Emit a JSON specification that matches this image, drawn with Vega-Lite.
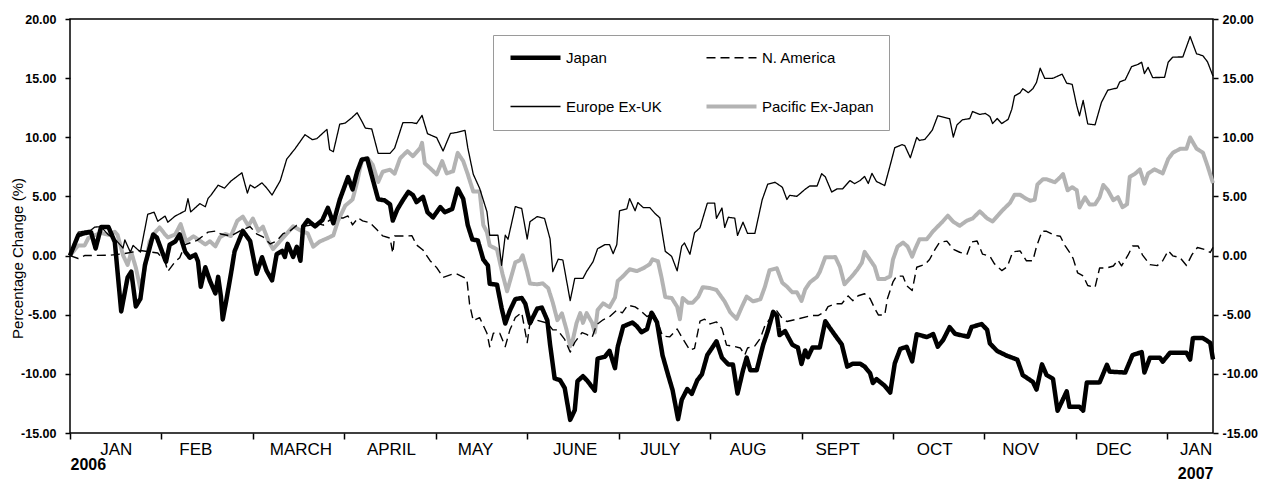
{
"$schema": "https://vega.github.io/schema/vega-lite/v6.json",
"width": 1143, "height": 414,
"autosize": {"type": "none"},
"padding": {"left": 70, "top": 19, "right": 48, "bottom": 49},
"background": "white",
"config": {
  "view": {"stroke": "#000", "strokeWidth": 1.5},
  "font": "Liberation Sans",
  "axis": {"grid": false, "domain": false, "tickColor": "#000", "labelColor": "#000", "titleColor": "#000", "labelFont": "Liberation Sans", "titleFont": "Liberation Sans"}
},
"datasets": {
"years": [{"month": 0.2, "ypos": -17.7, "label": "2006"}, {"month": 12.31, "ypos": -18.5, "label": "2007"}],
"lines": [
{"region":"Pacific Ex-Japan","month":0,"change":0},{"region":"Pacific Ex-Japan","month":0.09,"change":0.86},{"region":"Pacific Ex-Japan","month":0.16,"change":0.86},{"region":"Pacific Ex-Japan","month":0.2,"change":1.47},{"region":"Pacific Ex-Japan","month":0.27,"change":1.72},{"region":"Pacific Ex-Japan","month":0.34,"change":1.91},{"region":"Pacific Ex-Japan","month":0.42,"change":1.75},{"region":"Pacific Ex-Japan","month":0.49,"change":2.01},{"region":"Pacific Ex-Japan","month":0.52,"change":1.75},{"region":"Pacific Ex-Japan","month":0.58,"change":0.03},{"region":"Pacific Ex-Japan","month":0.63,"change":-0.79},{"region":"Pacific Ex-Japan","month":0.67,"change":0.29},{"region":"Pacific Ex-Japan","month":0.72,"change":-1.02},{"region":"Pacific Ex-Japan","month":0.77,"change":-2.83},{"region":"Pacific Ex-Japan","month":0.82,"change":-1.02},{"region":"Pacific Ex-Japan","month":0.87,"change":1.17},{"region":"Pacific Ex-Japan","month":0.93,"change":1.95},{"region":"Pacific Ex-Japan","month":0.98,"change":2.38},{"region":"Pacific Ex-Japan","month":1.04,"change":1.78},{"region":"Pacific Ex-Japan","month":1.07,"change":1.53},{"region":"Pacific Ex-Japan","month":1.15,"change":1.78},{"region":"Pacific Ex-Japan","month":1.21,"change":2.66},{"region":"Pacific Ex-Japan","month":1.27,"change":1.19},{"region":"Pacific Ex-Japan","month":1.35,"change":1.63},{"region":"Pacific Ex-Japan","month":1.4,"change":1.37},{"region":"Pacific Ex-Japan","month":1.48,"change":0.94},{"region":"Pacific Ex-Japan","month":1.53,"change":1.21},{"region":"Pacific Ex-Japan","month":1.59,"change":0.78},{"region":"Pacific Ex-Japan","month":1.64,"change":1.55},{"region":"Pacific Ex-Japan","month":1.7,"change":1.82},{"region":"Pacific Ex-Japan","month":1.76,"change":1.65},{"region":"Pacific Ex-Japan","month":1.83,"change":2.95},{"region":"Pacific Ex-Japan","month":1.89,"change":3.29},{"region":"Pacific Ex-Japan","month":1.95,"change":2.52},{"region":"Pacific Ex-Japan","month":2.0,"change":3.13},{"region":"Pacific Ex-Japan","month":2.06,"change":2.09},{"region":"Pacific Ex-Japan","month":2.11,"change":2.44},{"region":"Pacific Ex-Japan","month":2.17,"change":1.24},{"region":"Pacific Ex-Japan","month":2.22,"change":0.55},{"region":"Pacific Ex-Japan","month":2.3,"change":1.25},{"region":"Pacific Ex-Japan","month":2.37,"change":1.85},{"region":"Pacific Ex-Japan","month":2.44,"change":2.47},{"region":"Pacific Ex-Japan","month":2.52,"change":2.12},{"region":"Pacific Ex-Japan","month":2.6,"change":1.87},{"region":"Pacific Ex-Japan","month":2.66,"change":0.75},{"region":"Pacific Ex-Japan","month":2.73,"change":1.18},{"region":"Pacific Ex-Japan","month":2.81,"change":1.45},{"region":"Pacific Ex-Japan","month":2.88,"change":1.71},{"region":"Pacific Ex-Japan","month":2.93,"change":2.92},{"region":"Pacific Ex-Japan","month":3.01,"change":4.22},{"region":"Pacific Ex-Japan","month":3.09,"change":4.74},{"region":"Pacific Ex-Japan","month":3.14,"change":6.21},{"region":"Pacific Ex-Japan","month":3.17,"change":7.33},{"region":"Pacific Ex-Japan","month":3.2,"change":8.19},{"region":"Pacific Ex-Japan","month":3.26,"change":8.2},{"region":"Pacific Ex-Japan","month":3.31,"change":7.68},{"region":"Pacific Ex-Japan","month":3.37,"change":6.22},{"region":"Pacific Ex-Japan","month":3.42,"change":7.09},{"region":"Pacific Ex-Japan","month":3.5,"change":7.26},{"region":"Pacific Ex-Japan","month":3.55,"change":6.92},{"region":"Pacific Ex-Japan","month":3.61,"change":8.22},{"region":"Pacific Ex-Japan","month":3.69,"change":8.83},{"region":"Pacific Ex-Japan","month":3.75,"change":8.4},{"region":"Pacific Ex-Japan","month":3.83,"change":9.09},{"region":"Pacific Ex-Japan","month":3.85,"change":9.53},{"region":"Pacific Ex-Japan","month":3.88,"change":7.8},{"region":"Pacific Ex-Japan","month":3.94,"change":7.37},{"region":"Pacific Ex-Japan","month":4.01,"change":6.86},{"region":"Pacific Ex-Japan","month":4.07,"change":7.98},{"region":"Pacific Ex-Japan","month":4.12,"change":6.95},{"region":"Pacific Ex-Japan","month":4.19,"change":7.13},{"region":"Pacific Ex-Japan","month":4.24,"change":8.68},{"region":"Pacific Ex-Japan","month":4.3,"change":7.99},{"region":"Pacific Ex-Japan","month":4.35,"change":6.88},{"region":"Pacific Ex-Japan","month":4.41,"change":5.41},{"region":"Pacific Ex-Japan","month":4.48,"change":5.42},{"region":"Pacific Ex-Japan","month":4.52,"change":2.58},{"region":"Pacific Ex-Japan","month":4.56,"change":1.97},{"region":"Pacific Ex-Japan","month":4.59,"change":0.85},{"region":"Pacific Ex-Japan","month":4.67,"change":0.52},{"region":"Pacific Ex-Japan","month":4.73,"change":-1.56},{"region":"Pacific Ex-Japan","month":4.78,"change":-3.02},{"region":"Pacific Ex-Japan","month":4.81,"change":-2.2},{"region":"Pacific Ex-Japan","month":4.87,"change":-0.57},{"region":"Pacific Ex-Japan","month":4.92,"change":-0.4},{"region":"Pacific Ex-Japan","month":4.95,"change":0.02},{"region":"Pacific Ex-Japan","month":5.0,"change":-1.38},{"region":"Pacific Ex-Japan","month":5.03,"change":-2.36},{"region":"Pacific Ex-Japan","month":5.11,"change":-2.43},{"region":"Pacific Ex-Japan","month":5.17,"change":-2.35},{"region":"Pacific Ex-Japan","month":5.23,"change":-2.76},{"region":"Pacific Ex-Japan","month":5.28,"change":-3.98},{"region":"Pacific Ex-Japan","month":5.33,"change":-5.46},{"region":"Pacific Ex-Japan","month":5.38,"change":-4.89},{"region":"Pacific Ex-Japan","month":5.43,"change":-6.27},{"region":"Pacific Ex-Japan","month":5.47,"change":-7.66},{"region":"Pacific Ex-Japan","month":5.5,"change":-7.09},{"region":"Pacific Ex-Japan","month":5.54,"change":-5.7},{"region":"Pacific Ex-Japan","month":5.58,"change":-4.87},{"region":"Pacific Ex-Japan","month":5.61,"change":-5.69},{"region":"Pacific Ex-Japan","month":5.65,"change":-4.87},{"region":"Pacific Ex-Japan","month":5.71,"change":-5.69},{"region":"Pacific Ex-Japan","month":5.74,"change":-6.5},{"region":"Pacific Ex-Japan","month":5.77,"change":-4.61},{"region":"Pacific Ex-Japan","month":5.83,"change":-4.04},{"region":"Pacific Ex-Japan","month":5.9,"change":-4.36},{"region":"Pacific Ex-Japan","month":5.96,"change":-3.54},{"region":"Pacific Ex-Japan","month":5.99,"change":-2.15},{"region":"Pacific Ex-Japan","month":6.05,"change":-1.73},{"region":"Pacific Ex-Japan","month":6.12,"change":-1.16},{"region":"Pacific Ex-Japan","month":6.2,"change":-1.31},{"region":"Pacific Ex-Japan","month":6.27,"change":-1.07},{"region":"Pacific Ex-Japan","month":6.34,"change":-0.73},{"region":"Pacific Ex-Japan","month":6.37,"change":-0.32},{"region":"Pacific Ex-Japan","month":6.43,"change":-0.48},{"region":"Pacific Ex-Japan","month":6.47,"change":-1.88},{"region":"Pacific Ex-Japan","month":6.51,"change":-3.51},{"region":"Pacific Ex-Japan","month":6.58,"change":-3.59},{"region":"Pacific Ex-Japan","month":6.64,"change":-4.33},{"region":"Pacific Ex-Japan","month":6.67,"change":-5.39},{"region":"Pacific Ex-Japan","month":6.7,"change":-3.58},{"region":"Pacific Ex-Japan","month":6.76,"change":-3.99},{"region":"Pacific Ex-Japan","month":6.81,"change":-3.98},{"region":"Pacific Ex-Japan","month":6.87,"change":-3.49},{"region":"Pacific Ex-Japan","month":6.92,"change":-2.67},{"region":"Pacific Ex-Japan","month":7.0,"change":-2.75},{"region":"Pacific Ex-Japan","month":7.07,"change":-2.91},{"region":"Pacific Ex-Japan","month":7.16,"change":-3.89},{"region":"Pacific Ex-Japan","month":7.22,"change":-4.79},{"region":"Pacific Ex-Japan","month":7.29,"change":-5.35},{"region":"Pacific Ex-Japan","month":7.35,"change":-4.29},{"region":"Pacific Ex-Japan","month":7.4,"change":-3.47},{"region":"Pacific Ex-Japan","month":7.47,"change":-3.87},{"region":"Pacific Ex-Japan","month":7.55,"change":-3.7},{"region":"Pacific Ex-Japan","month":7.6,"change":-2.63},{"region":"Pacific Ex-Japan","month":7.65,"change":-1.24},{"region":"Pacific Ex-Japan","month":7.73,"change":-1.07},{"region":"Pacific Ex-Japan","month":7.79,"change":-2.3},{"region":"Pacific Ex-Japan","month":7.84,"change":-2.62},{"region":"Pacific Ex-Japan","month":7.9,"change":-3.11},{"region":"Pacific Ex-Japan","month":7.95,"change":-3.11},{"region":"Pacific Ex-Japan","month":8.0,"change":-3.84},{"region":"Pacific Ex-Japan","month":8.04,"change":-2.86},{"region":"Pacific Ex-Japan","month":8.09,"change":-2.28},{"region":"Pacific Ex-Japan","month":8.17,"change":-1.79},{"region":"Pacific Ex-Japan","month":8.2,"change":-1.38},{"region":"Pacific Ex-Japan","month":8.26,"change":-0.14},{"region":"Pacific Ex-Japan","month":8.37,"change":-0.13},{"region":"Pacific Ex-Japan","month":8.42,"change":-0.95},{"region":"Pacific Ex-Japan","month":8.47,"change":-2.43},{"region":"Pacific Ex-Japan","month":8.55,"change":-1.76},{"region":"Pacific Ex-Japan","month":8.61,"change":-1.19},{"region":"Pacific Ex-Japan","month":8.66,"change":-0.61},{"region":"Pacific Ex-Japan","month":8.69,"change":0.31},{"region":"Pacific Ex-Japan","month":8.75,"change":-0.36},{"region":"Pacific Ex-Japan","month":8.8,"change":-0.93},{"region":"Pacific Ex-Japan","month":8.84,"change":-1.99},{"region":"Pacific Ex-Japan","month":8.91,"change":-1.99},{"region":"Pacific Ex-Japan","month":8.97,"change":-1.75},{"region":"Pacific Ex-Japan","month":9.0,"change":-0.34},{"region":"Pacific Ex-Japan","month":9.05,"change":0.76},{"region":"Pacific Ex-Japan","month":9.11,"change":1.1},{"region":"Pacific Ex-Japan","month":9.16,"change":0.77},{"region":"Pacific Ex-Japan","month":9.21,"change":-0.09},{"region":"Pacific Ex-Japan","month":9.24,"change":0.51},{"region":"Pacific Ex-Japan","month":9.29,"change":1.37},{"region":"Pacific Ex-Japan","month":9.37,"change":1.38},{"region":"Pacific Ex-Japan","month":9.44,"change":2.07},{"region":"Pacific Ex-Japan","month":9.54,"change":2.85},{"region":"Pacific Ex-Japan","month":9.6,"change":3.37},{"region":"Pacific Ex-Japan","month":9.66,"change":2.86},{"region":"Pacific Ex-Japan","month":9.73,"change":2.52},{"region":"Pacific Ex-Japan","month":9.81,"change":2.96},{"region":"Pacific Ex-Japan","month":9.87,"change":3.13},{"region":"Pacific Ex-Japan","month":9.95,"change":3.74},{"region":"Pacific Ex-Japan","month":10.03,"change":3.14},{"region":"Pacific Ex-Japan","month":10.09,"change":2.89},{"region":"Pacific Ex-Japan","month":10.15,"change":3.41},{"region":"Pacific Ex-Japan","month":10.2,"change":3.84},{"region":"Pacific Ex-Japan","month":10.28,"change":4.45},{"region":"Pacific Ex-Japan","month":10.33,"change":5.14},{"region":"Pacific Ex-Japan","month":10.39,"change":5.14},{"region":"Pacific Ex-Japan","month":10.44,"change":4.89},{"region":"Pacific Ex-Japan","month":10.5,"change":4.63},{"region":"Pacific Ex-Japan","month":10.55,"change":4.72},{"region":"Pacific Ex-Japan","month":10.58,"change":6.02},{"region":"Pacific Ex-Japan","month":10.64,"change":6.45},{"region":"Pacific Ex-Japan","month":10.68,"change":6.45},{"region":"Pacific Ex-Japan","month":10.77,"change":6.2},{"region":"Pacific Ex-Japan","month":10.83,"change":6.63},{"region":"Pacific Ex-Japan","month":10.86,"change":6.89},{"region":"Pacific Ex-Japan","month":10.91,"change":5.52},{"region":"Pacific Ex-Japan","month":10.96,"change":5.78},{"region":"Pacific Ex-Japan","month":11.01,"change":5.52},{"region":"Pacific Ex-Japan","month":11.04,"change":4.06},{"region":"Pacific Ex-Japan","month":11.1,"change":4.92},{"region":"Pacific Ex-Japan","month":11.15,"change":4.32},{"region":"Pacific Ex-Japan","month":11.21,"change":4.33},{"region":"Pacific Ex-Japan","month":11.26,"change":4.93},{"region":"Pacific Ex-Japan","month":11.3,"change":5.97},{"region":"Pacific Ex-Japan","month":11.35,"change":5.54},{"region":"Pacific Ex-Japan","month":11.41,"change":4.68},{"region":"Pacific Ex-Japan","month":11.46,"change":4.94},{"region":"Pacific Ex-Japan","month":11.51,"change":4.09},{"region":"Pacific Ex-Japan","month":11.56,"change":4.34},{"region":"Pacific Ex-Japan","month":11.59,"change":6.67},{"region":"Pacific Ex-Japan","month":11.65,"change":6.93},{"region":"Pacific Ex-Japan","month":11.7,"change":7.28},{"region":"Pacific Ex-Japan","month":11.75,"change":6.08},{"region":"Pacific Ex-Japan","month":11.79,"change":6.94},{"region":"Pacific Ex-Japan","month":11.86,"change":7.29},{"region":"Pacific Ex-Japan","month":11.95,"change":6.95},{"region":"Pacific Ex-Japan","month":12.01,"change":8.16},{"region":"Pacific Ex-Japan","month":12.06,"change":8.68},{"region":"Pacific Ex-Japan","month":12.14,"change":9.03},{"region":"Pacific Ex-Japan","month":12.21,"change":9.03},{"region":"Pacific Ex-Japan","month":12.25,"change":9.98},{"region":"Pacific Ex-Japan","month":12.32,"change":9.04},{"region":"Pacific Ex-Japan","month":12.39,"change":8.7},{"region":"Pacific Ex-Japan","month":12.44,"change":7.59},{"region":"Pacific Ex-Japan","month":12.5,"change":6.12},
{"region":"N. America","month":0,"change":0},{"region":"N. America","month":0.09,"change":-0.25},{"region":"N. America","month":0.16,"change":0},{"region":"N. America","month":0.44,"change":0.03},{"region":"N. America","month":0.6,"change":0.17},{"region":"N. America","month":0.77,"change":0.43},{"region":"N. America","month":0.96,"change":0.22},{"region":"N. America","month":1.04,"change":-0.52},{"region":"N. America","month":1.07,"change":-1.34},{"region":"N. America","month":1.15,"change":-0.52},{"region":"N. America","month":1.2,"change":-0.18},{"region":"N. America","month":1.26,"change":0.93},{"region":"N. America","month":1.39,"change":1.28},{"region":"N. America","month":1.51,"change":1.98},{"region":"N. America","month":1.59,"change":2.07},{"region":"N. America","month":1.65,"change":1.82},{"region":"N. America","month":1.76,"change":1.65},{"region":"N. America","month":1.86,"change":2.09},{"region":"N. America","month":1.97,"change":2.44},{"region":"N. America","month":2.04,"change":1.84},{"region":"N. America","month":2.11,"change":1.59},{"region":"N. America","month":2.19,"change":0.98},{"region":"N. America","month":2.26,"change":1.24},{"region":"N. America","month":2.33,"change":1.85},{"region":"N. America","month":2.41,"change":2.11},{"region":"N. America","month":2.48,"change":2.55},{"region":"N. America","month":2.55,"change":2.47},{"region":"N. America","month":2.62,"change":2.56},{"region":"N. America","month":2.7,"change":2.73},{"region":"N. America","month":2.77,"change":2.57},{"region":"N. America","month":2.84,"change":3.0},{"region":"N. America","month":2.92,"change":3.18},{"region":"N. America","month":2.99,"change":3.18},{"region":"N. America","month":3.04,"change":3.35},{"region":"N. America","month":3.09,"change":2.59},{"region":"N. America","month":3.15,"change":3.19},{"region":"N. America","month":3.2,"change":2.93},{"region":"N. America","month":3.28,"change":2.77},{"region":"N. America","month":3.36,"change":2.16},{"region":"N. America","month":3.42,"change":1.66},{"region":"N. America","month":3.5,"change":1.48},{"region":"N. America","month":3.53,"change":0.2},{"region":"N. America","month":3.55,"change":1.66},{"region":"N. America","month":3.64,"change":1.66},{"region":"N. America","month":3.74,"change":1.67},{"region":"N. America","month":3.79,"change":0.9},{"region":"N. America","month":3.86,"change":0.47},{"region":"N. America","month":3.94,"change":-0.45},{"region":"N. America","month":4.01,"change":-1.02},{"region":"N. America","month":4.08,"change":-1.84},{"region":"N. America","month":4.18,"change":-1.58},{"region":"N. America","month":4.24,"change":-1.58},{"region":"N. America","month":4.34,"change":-1.98},{"region":"N. America","month":4.37,"change":-4.11},{"region":"N. America","month":4.41,"change":-5.51},{"region":"N. America","month":4.48,"change":-5.25},{"region":"N. America","month":4.56,"change":-6.57},{"region":"N. America","month":4.59,"change":-7.71},{"region":"N. America","month":4.63,"change":-6.56},{"region":"N. America","month":4.7,"change":-6.56},{"region":"N. America","month":4.76,"change":-7.7},{"region":"N. America","month":4.81,"change":-6.3},{"region":"N. America","month":4.87,"change":-5.24},{"region":"N. America","month":4.94,"change":-4.82},{"region":"N. America","month":5.0,"change":-7.36},{"region":"N. America","month":5.03,"change":-5.72},{"region":"N. America","month":5.11,"change":-5.47},{"region":"N. America","month":5.22,"change":-5.71},{"region":"N. America","month":5.28,"change":-6.28},{"region":"N. America","month":5.33,"change":-6.28},{"region":"N. America","month":5.41,"change":-7.09},{"region":"N. America","month":5.47,"change":-8.16},{"region":"N. America","month":5.52,"change":-7.34},{"region":"N. America","month":5.6,"change":-6.51},{"region":"N. America","month":5.65,"change":-6.67},{"region":"N. America","month":5.71,"change":-6.91},{"region":"N. America","month":5.76,"change":-5.84},{"region":"N. America","month":5.83,"change":-5.43},{"region":"N. America","month":5.9,"change":-5.18},{"region":"N. America","month":5.98,"change":-4.61},{"region":"N. America","month":6.04,"change":-4.84},{"region":"N. America","month":6.1,"change":-4.19},{"region":"N. America","month":6.18,"change":-4.34},{"region":"N. America","month":6.23,"change":-4.59},{"region":"N. America","month":6.31,"change":-5.16},{"region":"N. America","month":6.38,"change":-4.83},{"region":"N. America","month":6.43,"change":-5.65},{"region":"N. America","month":6.48,"change":-6.8},{"region":"N. America","month":6.56,"change":-6.87},{"region":"N. America","month":6.64,"change":-6.21},{"region":"N. America","month":6.7,"change":-7.02},{"region":"N. America","month":6.78,"change":-8.01},{"region":"N. America","month":6.83,"change":-7.84},{"region":"N. America","month":6.89,"change":-5.54},{"region":"N. America","month":6.94,"change":-5.38},{"region":"N. America","month":7.0,"change":-5.78},{"region":"N. America","month":7.07,"change":-5.61},{"region":"N. America","month":7.13,"change":-6.18},{"region":"N. America","month":7.18,"change":-7.57},{"region":"N. America","month":7.25,"change":-7.66},{"region":"N. America","month":7.33,"change":-7.81},{"region":"N. America","month":7.38,"change":-8.39},{"region":"N. America","month":7.41,"change":-7.81},{"region":"N. America","month":7.49,"change":-7.64},{"region":"N. America","month":7.55,"change":-6.98},{"region":"N. America","month":7.6,"change":-5.91},{"region":"N. America","month":7.68,"change":-5.09},{"region":"N. America","month":7.73,"change":-4.68},{"region":"N. America","month":7.79,"change":-5.33},{"region":"N. America","month":7.84,"change":-5.57},{"region":"N. America","month":7.98,"change":-5.32},{"region":"N. America","month":8.11,"change":-5.07},{"region":"N. America","month":8.18,"change":-5.07},{"region":"N. America","month":8.26,"change":-4.73},{"region":"N. America","month":8.29,"change":-4.32},{"region":"N. America","month":8.37,"change":-4.07},{"region":"N. America","month":8.44,"change":-4.07},{"region":"N. America","month":8.51,"change":-3.41},{"region":"N. America","month":8.56,"change":-3.81},{"region":"N. America","month":8.62,"change":-3.4},{"region":"N. America","month":8.69,"change":-3.23},{"region":"N. America","month":8.75,"change":-3.64},{"region":"N. America","month":8.8,"change":-4.46},{"region":"N. America","month":8.84,"change":-5.02},{"region":"N. America","month":8.91,"change":-5.02},{"region":"N. America","month":8.94,"change":-3.63},{"region":"N. America","month":9.0,"change":-2.23},{"region":"N. America","month":9.04,"change":-1.74},{"region":"N. America","month":9.11,"change":-1.74},{"region":"N. America","month":9.15,"change":-2.55},{"region":"N. America","month":9.21,"change":-2.96},{"region":"N. America","month":9.26,"change":-0.99},{"region":"N. America","month":9.35,"change":-0.74},{"region":"N. America","month":9.4,"change":-0.33},{"region":"N. America","month":9.46,"change":0.52},{"region":"N. America","month":9.51,"change":1.13},{"region":"N. America","month":9.59,"change":1.22},{"region":"N. America","month":9.66,"change":0.53},{"region":"N. America","month":9.73,"change":0.28},{"region":"N. America","month":9.81,"change":0.11},{"region":"N. America","month":9.86,"change":1.15},{"region":"N. America","month":9.92,"change":1.23},{"region":"N. America","month":9.98,"change":0.12},{"region":"N. America","month":10.06,"change":-0.05},{"region":"N. America","month":10.11,"change":-0.7},{"region":"N. America","month":10.19,"change":-1.27},{"region":"N. America","month":10.25,"change":-0.94},{"region":"N. America","month":10.31,"change":0.31},{"region":"N. America","month":10.39,"change":0.4},{"region":"N. America","month":10.46,"change":-0.44},{"region":"N. America","month":10.53,"change":-0.43},{"region":"N. America","month":10.57,"change":0.76},{"region":"N. America","month":10.63,"change":2.05},{"region":"N. America","month":10.68,"change":2.05},{"region":"N. America","month":10.77,"change":1.71},{"region":"N. America","month":10.83,"change":1.63},{"region":"N. America","month":10.88,"change":0.86},{"region":"N. America","month":10.94,"change":0.17},{"region":"N. America","month":10.97,"change":-0.24},{"region":"N. America","month":11.02,"change":-1.47},{"region":"N. America","month":11.08,"change":-1.71},{"region":"N. America","month":11.13,"change":-2.53},{"region":"N. America","month":11.21,"change":-2.69},{"region":"N. America","month":11.26,"change":-1.05},{"region":"N. America","month":11.34,"change":-1.04},{"region":"N. America","month":11.41,"change":-0.88},{"region":"N. America","month":11.46,"change":-0.38},{"region":"N. America","month":11.5,"change":-0.87},{"region":"N. America","month":11.57,"change":0.03},{"region":"N. America","month":11.62,"change":0.81},{"region":"N. America","month":11.68,"change":0.82},{"region":"N. America","month":11.73,"change":0.04},{"region":"N. America","month":11.81,"change":-0.77},{"region":"N. America","month":11.89,"change":-0.85},{"region":"N. America","month":11.95,"change":-0.44},{"region":"N. America","month":12.01,"change":0.41},{"region":"N. America","month":12.06,"change":-0.02},{"region":"N. America","month":12.14,"change":-0.18},{"region":"N. America","month":12.21,"change":-0.84},{"region":"N. America","month":12.27,"change":0.08},{"region":"N. America","month":12.33,"change":0.68},{"region":"N. America","month":12.41,"change":0.51},{"region":"N. America","month":12.47,"change":0.26},{"region":"N. America","month":12.5,"change":0.69},
{"region":"Europe Ex-UK","month":0,"change":0},{"region":"Europe Ex-UK","month":0.09,"change":1.98},{"region":"Europe Ex-UK","month":0.23,"change":2.16},{"region":"Europe Ex-UK","month":0.27,"change":2.41},{"region":"Europe Ex-UK","month":0.34,"change":2.43},{"region":"Europe Ex-UK","month":0.42,"change":1.75},{"region":"Europe Ex-UK","month":0.5,"change":1.32},{"region":"Europe Ex-UK","month":0.58,"change":0.64},{"region":"Europe Ex-UK","month":0.6,"change":1.32},{"region":"Europe Ex-UK","month":0.66,"change":0.29},{"region":"Europe Ex-UK","month":0.69,"change":0.86},{"region":"Europe Ex-UK","month":0.77,"change":0.3},{"region":"Europe Ex-UK","month":0.85,"change":3.49},{"region":"Europe Ex-UK","month":0.92,"change":3.67},{"region":"Europe Ex-UK","month":0.96,"change":2.9},{"region":"Europe Ex-UK","month":1.04,"change":3.34},{"region":"Europe Ex-UK","month":1.07,"change":2.82},{"region":"Europe Ex-UK","month":1.15,"change":3.34},{"region":"Europe Ex-UK","month":1.26,"change":3.78},{"region":"Europe Ex-UK","month":1.29,"change":4.81},{"region":"Europe Ex-UK","month":1.32,"change":3.69},{"region":"Europe Ex-UK","month":1.42,"change":4.39},{"region":"Europe Ex-UK","month":1.48,"change":4.13},{"region":"Europe Ex-UK","month":1.51,"change":4.83},{"region":"Europe Ex-UK","month":1.54,"change":5.09},{"region":"Europe Ex-UK","month":1.62,"change":5.95},{"region":"Europe Ex-UK","month":1.69,"change":5.7},{"region":"Europe Ex-UK","month":1.76,"change":6.3},{"region":"Europe Ex-UK","month":1.88,"change":7.0},{"region":"Europe Ex-UK","month":1.94,"change":5.28},{"region":"Europe Ex-UK","month":1.97,"change":5.97},{"region":"Europe Ex-UK","month":2.02,"change":5.72},{"region":"Europe Ex-UK","month":2.1,"change":6.15},{"region":"Europe Ex-UK","month":2.15,"change":5.72},{"region":"Europe Ex-UK","month":2.21,"change":5.12},{"region":"Europe Ex-UK","month":2.3,"change":6.34},{"region":"Europe Ex-UK","month":2.37,"change":8.15},{"region":"Europe Ex-UK","month":2.46,"change":9.02},{"region":"Europe Ex-UK","month":2.57,"change":10.22},{"region":"Europe Ex-UK","month":2.65,"change":9.8},{"region":"Europe Ex-UK","month":2.7,"change":9.89},{"region":"Europe Ex-UK","month":2.81,"change":10.67},{"region":"Europe Ex-UK","month":2.84,"change":8.95},{"region":"Europe Ex-UK","month":2.88,"change":8.78},{"region":"Europe Ex-UK","month":2.95,"change":11.11},{"region":"Europe Ex-UK","month":3.01,"change":11.2},{"region":"Europe Ex-UK","month":3.08,"change":11.64},{"region":"Europe Ex-UK","month":3.14,"change":12.07},{"region":"Europe Ex-UK","month":3.19,"change":11.38},{"region":"Europe Ex-UK","month":3.23,"change":10.78},{"region":"Europe Ex-UK","month":3.3,"change":10.7},{"region":"Europe Ex-UK","month":3.37,"change":8.64},{"region":"Europe Ex-UK","month":3.5,"change":8.64},{"region":"Europe Ex-UK","month":3.55,"change":9.08},{"region":"Europe Ex-UK","month":3.64,"change":11.23},{"region":"Europe Ex-UK","month":3.74,"change":11.24},{"region":"Europe Ex-UK","month":3.79,"change":11.16},{"region":"Europe Ex-UK","month":3.85,"change":11.85},{"region":"Europe Ex-UK","month":3.91,"change":10.3},{"region":"Europe Ex-UK","month":4.01,"change":9.97},{"region":"Europe Ex-UK","month":4.08,"change":8.84},{"region":"Europe Ex-UK","month":4.16,"change":10.32},{"region":"Europe Ex-UK","month":4.23,"change":10.41},{"region":"Europe Ex-UK","month":4.32,"change":10.59},{"region":"Europe Ex-UK","month":4.35,"change":9.12},{"region":"Europe Ex-UK","month":4.41,"change":6.88},{"region":"Europe Ex-UK","month":4.48,"change":5.68},{"region":"Europe Ex-UK","month":4.56,"change":3.7},{"region":"Europe Ex-UK","month":4.59,"change":1.72},{"region":"Europe Ex-UK","month":4.68,"change":1.72},{"region":"Europe Ex-UK","month":4.72,"change":-0.82},{"region":"Europe Ex-UK","month":4.76,"change":1.72},{"region":"Europe Ex-UK","month":4.79,"change":1.38},{"region":"Europe Ex-UK","month":4.87,"change":4.14},{"region":"Europe Ex-UK","month":4.94,"change":3.98},{"region":"Europe Ex-UK","month":5.0,"change":1.4},{"region":"Europe Ex-UK","month":5.03,"change":2.86},{"region":"Europe Ex-UK","month":5.11,"change":3.3},{"region":"Europe Ex-UK","month":5.19,"change":3.13},{"region":"Europe Ex-UK","month":5.25,"change":1.41},{"region":"Europe Ex-UK","month":5.28,"change":-1.36},{"region":"Europe Ex-UK","month":5.34,"change":-0.3},{"region":"Europe Ex-UK","month":5.39,"change":-0.38},{"region":"Europe Ex-UK","month":5.47,"change":-3.81},{"region":"Europe Ex-UK","month":5.52,"change":-1.93},{"region":"Europe Ex-UK","month":5.61,"change":-1.93},{"region":"Europe Ex-UK","month":5.65,"change":-1.34},{"region":"Europe Ex-UK","month":5.72,"change":-0.52},{"region":"Europe Ex-UK","month":5.77,"change":0.58},{"region":"Europe Ex-UK","month":5.85,"change":0.92},{"region":"Europe Ex-UK","month":5.9,"change":0.93},{"region":"Europe Ex-UK","month":5.94,"change":0.16},{"region":"Europe Ex-UK","month":5.98,"change":0.93},{"region":"Europe Ex-UK","month":6.01,"change":3.78},{"region":"Europe Ex-UK","month":6.09,"change":3.96},{"region":"Europe Ex-UK","month":6.12,"change":4.82},{"region":"Europe Ex-UK","month":6.18,"change":3.79},{"region":"Europe Ex-UK","month":6.21,"change":4.48},{"region":"Europe Ex-UK","month":6.27,"change":4.05},{"region":"Europe Ex-UK","month":6.34,"change":4.06},{"region":"Europe Ex-UK","month":6.4,"change":3.54},{"region":"Europe Ex-UK","month":6.45,"change":3.2},{"region":"Europe Ex-UK","month":6.51,"change":0.36},{"region":"Europe Ex-UK","month":6.58,"change":-0.07},{"region":"Europe Ex-UK","month":6.64,"change":-1.29},{"region":"Europe Ex-UK","month":6.69,"change":0.8},{"region":"Europe Ex-UK","month":6.72,"change":1.06},{"region":"Europe Ex-UK","month":6.78,"change":0.11},{"region":"Europe Ex-UK","month":6.83,"change":1.93},{"region":"Europe Ex-UK","month":6.89,"change":2.36},{"region":"Europe Ex-UK","month":6.97,"change":4.43},{"region":"Europe Ex-UK","month":7.05,"change":4.44},{"region":"Europe Ex-UK","month":7.07,"change":3.15},{"region":"Europe Ex-UK","month":7.13,"change":4.02},{"region":"Europe Ex-UK","month":7.16,"change":2.38},{"region":"Europe Ex-UK","month":7.2,"change":3.24},{"region":"Europe Ex-UK","month":7.27,"change":3.16},{"region":"Europe Ex-UK","month":7.3,"change":1.7},{"region":"Europe Ex-UK","month":7.36,"change":2.82},{"region":"Europe Ex-UK","month":7.41,"change":1.87},{"region":"Europe Ex-UK","month":7.49,"change":1.88},{"region":"Europe Ex-UK","month":7.57,"change":4.72},{"region":"Europe Ex-UK","month":7.63,"change":6.03},{"region":"Europe Ex-UK","month":7.71,"change":6.2},{"region":"Europe Ex-UK","month":7.79,"change":5.78},{"region":"Europe Ex-UK","month":7.84,"change":4.74},{"region":"Europe Ex-UK","month":7.87,"change":5.09},{"region":"Europe Ex-UK","month":7.95,"change":5.01},{"region":"Europe Ex-UK","month":8.04,"change":5.61},{"region":"Europe Ex-UK","month":8.09,"change":5.88},{"region":"Europe Ex-UK","month":8.17,"change":5.88},{"region":"Europe Ex-UK","month":8.22,"change":6.92},{"region":"Europe Ex-UK","month":8.26,"change":6.66},{"region":"Europe Ex-UK","month":8.33,"change":5.37},{"region":"Europe Ex-UK","month":8.39,"change":5.64},{"region":"Europe Ex-UK","month":8.45,"change":5.64},{"region":"Europe Ex-UK","month":8.53,"change":6.34},{"region":"Europe Ex-UK","month":8.58,"change":6.08},{"region":"Europe Ex-UK","month":8.64,"change":6.34},{"region":"Europe Ex-UK","month":8.69,"change":6.69},{"region":"Europe Ex-UK","month":8.73,"change":6.09},{"region":"Europe Ex-UK","month":8.77,"change":6.95},{"region":"Europe Ex-UK","month":8.82,"change":6.26},{"region":"Europe Ex-UK","month":8.91,"change":5.92},{"region":"Europe Ex-UK","month":8.97,"change":7.65},{"region":"Europe Ex-UK","month":9.02,"change":9.12},{"region":"Europe Ex-UK","month":9.1,"change":9.38},{"region":"Europe Ex-UK","month":9.13,"change":9.29},{"region":"Europe Ex-UK","month":9.19,"change":8.27},{"region":"Europe Ex-UK","month":9.26,"change":9.99},{"region":"Europe Ex-UK","month":9.29,"change":9.73},{"region":"Europe Ex-UK","month":9.35,"change":9.83},{"region":"Europe Ex-UK","month":9.43,"change":10.6},{"region":"Europe Ex-UK","month":9.49,"change":11.82},{"region":"Europe Ex-UK","month":9.62,"change":11.57},{"region":"Europe Ex-UK","month":9.66,"change":10.02},{"region":"Europe Ex-UK","month":9.7,"change":11.05},{"region":"Europe Ex-UK","month":9.76,"change":11.48},{"region":"Europe Ex-UK","month":9.84,"change":11.58},{"region":"Europe Ex-UK","month":9.87,"change":12.18},{"region":"Europe Ex-UK","month":9.95,"change":11.93},{"region":"Europe Ex-UK","month":10.01,"change":12.02},{"region":"Europe Ex-UK","month":10.06,"change":11.76},{"region":"Europe Ex-UK","month":10.09,"change":11.16},{"region":"Europe Ex-UK","month":10.14,"change":11.59},{"region":"Europe Ex-UK","month":10.19,"change":11.16},{"region":"Europe Ex-UK","month":10.26,"change":11.52},{"region":"Europe Ex-UK","month":10.3,"change":12.38},{"region":"Europe Ex-UK","month":10.33,"change":13.5},{"region":"Europe Ex-UK","month":10.39,"change":13.76},{"region":"Europe Ex-UK","month":10.42,"change":14.11},{"region":"Europe Ex-UK","month":10.48,"change":13.77},{"region":"Europe Ex-UK","month":10.53,"change":14.11},{"region":"Europe Ex-UK","month":10.57,"change":14.64},{"region":"Europe Ex-UK","month":10.61,"change":15.84},{"region":"Europe Ex-UK","month":10.66,"change":14.98},{"region":"Europe Ex-UK","month":10.75,"change":14.99},{"region":"Europe Ex-UK","month":10.85,"change":15.34},{"region":"Europe Ex-UK","month":10.9,"change":14.57},{"region":"Europe Ex-UK","month":10.96,"change":14.48},{"region":"Europe Ex-UK","month":11.01,"change":12.67},{"region":"Europe Ex-UK","month":11.04,"change":11.82},{"region":"Europe Ex-UK","month":11.08,"change":13.11},{"region":"Europe Ex-UK","month":11.13,"change":11.13},{"region":"Europe Ex-UK","month":11.21,"change":11.05},{"region":"Europe Ex-UK","month":11.28,"change":12.95},{"region":"Europe Ex-UK","month":11.35,"change":13.99},{"region":"Europe Ex-UK","month":11.45,"change":14.16},{"region":"Europe Ex-UK","month":11.48,"change":14.68},{"region":"Europe Ex-UK","month":11.54,"change":14.86},{"region":"Europe Ex-UK","month":11.61,"change":15.98},{"region":"Europe Ex-UK","month":11.68,"change":16.16},{"region":"Europe Ex-UK","month":11.72,"change":16.34},{"region":"Europe Ex-UK","month":11.75,"change":15.39},{"region":"Europe Ex-UK","month":11.79,"change":15.91},{"region":"Europe Ex-UK","month":11.84,"change":15.05},{"region":"Europe Ex-UK","month":11.97,"change":15.06},{"region":"Europe Ex-UK","month":12.01,"change":16.35},{"region":"Europe Ex-UK","month":12.06,"change":16.78},{"region":"Europe Ex-UK","month":12.17,"change":16.79},{"region":"Europe Ex-UK","month":12.25,"change":18.52},{"region":"Europe Ex-UK","month":12.32,"change":17.06},{"region":"Europe Ex-UK","month":12.39,"change":16.89},{"region":"Europe Ex-UK","month":12.44,"change":16.38},{"region":"Europe Ex-UK","month":12.5,"change":15.17},
{"region":"Japan","month":0,"change":0},{"region":"Japan","month":0.09,"change":1.72},{"region":"Japan","month":0.16,"change":1.9},{"region":"Japan","month":0.23,"change":1.98},{"region":"Japan","month":0.28,"change":0.6},{"region":"Japan","month":0.34,"change":2.41},{"region":"Japan","month":0.42,"change":2.42},{"region":"Japan","month":0.49,"change":1.15},{"region":"Japan","month":0.56,"change":-4.72},{"region":"Japan","month":0.63,"change":-1.85},{"region":"Japan","month":0.67,"change":-1.36},{"region":"Japan","month":0.72,"change":-4.3},{"region":"Japan","month":0.77,"change":-3.65},{"region":"Japan","month":0.82,"change":-0.78},{"region":"Japan","month":0.85,"change":0.05},{"region":"Japan","month":0.91,"change":1.78},{"region":"Japan","month":0.95,"change":1.52},{"region":"Japan","month":1.02,"change":0.06},{"region":"Japan","month":1.05,"change":-0.52},{"region":"Japan","month":1.09,"change":0.92},{"region":"Japan","month":1.15,"change":1.18},{"region":"Japan","month":1.2,"change":1.79},{"region":"Japan","month":1.26,"change":0.33},{"region":"Japan","month":1.31,"change":-0.18},{"region":"Japan","month":1.37,"change":0.08},{"region":"Japan","month":1.4,"change":-0.5},{"region":"Japan","month":1.43,"change":-2.63},{"region":"Japan","month":1.48,"change":-0.99},{"region":"Japan","month":1.53,"change":-2.13},{"region":"Japan","month":1.59,"change":-3.2},{"region":"Japan","month":1.62,"change":-1.8},{"region":"Japan","month":1.65,"change":-3.43},{"region":"Japan","month":1.67,"change":-5.4},{"region":"Japan","month":1.71,"change":-3.76},{"region":"Japan","month":1.76,"change":-1.55},{"region":"Japan","month":1.8,"change":0.36},{"region":"Japan","month":1.89,"change":2.09},{"region":"Japan","month":1.97,"change":1.23},{"region":"Japan","month":2.04,"change":-1.53},{"region":"Japan","month":2.1,"change":-0.14},{"region":"Japan","month":2.15,"change":-1.28},{"region":"Japan","month":2.21,"change":-2.1},{"region":"Japan","month":2.26,"change":0.12},{"region":"Japan","month":2.32,"change":0.39},{"region":"Japan","month":2.35,"change":-0.12},{"region":"Japan","month":2.38,"change":0.99},{"region":"Japan","month":2.44,"change":-0.11},{"region":"Japan","month":2.48,"change":0.74},{"region":"Japan","month":2.52,"change":-0.44},{"region":"Japan","month":2.55,"change":2.47},{"region":"Japan","month":2.6,"change":2.99},{"region":"Japan","month":2.68,"change":2.47},{"region":"Japan","month":2.76,"change":3.0},{"region":"Japan","month":2.82,"change":4.03},{"region":"Japan","month":2.88,"change":2.74},{"region":"Japan","month":2.95,"change":4.73},{"region":"Japan","month":3.04,"change":6.63},{"region":"Japan","month":3.09,"change":5.6},{"region":"Japan","month":3.14,"change":7.07},{"region":"Japan","month":3.19,"change":8.1},{"region":"Japan","month":3.25,"change":8.2},{"region":"Japan","month":3.31,"change":6.47},{"region":"Japan","month":3.37,"change":4.76},{"region":"Japan","month":3.44,"change":4.67},{"region":"Japan","month":3.5,"change":4.33},{"region":"Japan","month":3.53,"change":2.96},{"region":"Japan","month":3.58,"change":3.91},{"region":"Japan","month":3.64,"change":4.68},{"region":"Japan","month":3.7,"change":5.38},{"region":"Japan","month":3.75,"change":5.12},{"region":"Japan","month":3.79,"change":4.52},{"region":"Japan","month":3.86,"change":4.96},{"region":"Japan","month":3.91,"change":3.66},{"region":"Japan","month":3.97,"change":3.23},{"region":"Japan","month":4.05,"change":4.1},{"region":"Japan","month":4.1,"change":3.67},{"region":"Japan","month":4.18,"change":3.94},{"region":"Japan","month":4.24,"change":5.66},{"region":"Japan","month":4.3,"change":4.8},{"region":"Japan","month":4.35,"change":2.57},{"region":"Japan","month":4.4,"change":1.36},{"region":"Japan","month":4.46,"change":1.28},{"region":"Japan","month":4.52,"change":-0.34},{"region":"Japan","month":4.57,"change":-0.83},{"region":"Japan","month":4.59,"change":-2.39},{"region":"Japan","month":4.67,"change":-2.46},{"region":"Japan","month":4.72,"change":-4.43},{"region":"Japan","month":4.76,"change":-5.74},{"region":"Japan","month":4.81,"change":-4.66},{"region":"Japan","month":4.87,"change":-3.68},{"region":"Japan","month":4.94,"change":-3.59},{"region":"Japan","month":4.98,"change":-4.08},{"region":"Japan","month":5.03,"change":-5.72},{"region":"Japan","month":5.11,"change":-4.48},{"region":"Japan","month":5.16,"change":-4.4},{"region":"Japan","month":5.22,"change":-5.47},{"region":"Japan","month":5.25,"change":-7.51},{"region":"Japan","month":5.3,"change":-10.38},{"region":"Japan","month":5.36,"change":-10.54},{"region":"Japan","month":5.41,"change":-11.19},{"region":"Japan","month":5.47,"change":-13.89},{"region":"Japan","month":5.52,"change":-13.07},{"region":"Japan","month":5.55,"change":-10.61},{"region":"Japan","month":5.61,"change":-10.2},{"region":"Japan","month":5.66,"change":-10.61},{"region":"Japan","month":5.74,"change":-11.42},{"region":"Japan","month":5.77,"change":-8.71},{"region":"Japan","month":5.85,"change":-8.55},{"region":"Japan","month":5.9,"change":-8.05},{"region":"Japan","month":5.96,"change":-9.52},{"region":"Japan","month":5.99,"change":-7.72},{"region":"Japan","month":6.05,"change":-5.99},{"region":"Japan","month":6.15,"change":-5.66},{"region":"Japan","month":6.2,"change":-5.98},{"region":"Japan","month":6.25,"change":-6.48},{"region":"Japan","month":6.31,"change":-6.23},{"region":"Japan","month":6.36,"change":-4.83},{"region":"Japan","month":6.42,"change":-5.65},{"region":"Japan","month":6.48,"change":-8.43},{"region":"Japan","month":6.54,"change":-10.07},{"region":"Japan","month":6.59,"change":-11.38},{"region":"Japan","month":6.65,"change":-13.83},{"region":"Japan","month":6.69,"change":-12.19},{"region":"Japan","month":6.75,"change":-11.29},{"region":"Japan","month":6.8,"change":-11.69},{"region":"Japan","month":6.86,"change":-10.54},{"region":"Japan","month":6.91,"change":-10.05},{"region":"Japan","month":6.97,"change":-8.4},{"region":"Japan","month":7.02,"change":-7.83},{"region":"Japan","month":7.07,"change":-7.25},{"region":"Japan","month":7.13,"change":-8.64},{"region":"Japan","month":7.2,"change":-9.21},{"region":"Japan","month":7.25,"change":-9.21},{"region":"Japan","month":7.3,"change":-11.66},{"region":"Japan","month":7.36,"change":-9.7},{"region":"Japan","month":7.4,"change":-8.63},{"region":"Japan","month":7.44,"change":-9.69},{"region":"Japan","month":7.51,"change":-9.69},{"region":"Japan","month":7.58,"change":-7.56},{"region":"Japan","month":7.63,"change":-6.4},{"region":"Japan","month":7.69,"change":-4.76},{"region":"Japan","month":7.73,"change":-5.09},{"region":"Japan","month":7.76,"change":-6.72},{"region":"Japan","month":7.82,"change":-6.39},{"region":"Japan","month":7.9,"change":-7.54},{"region":"Japan","month":7.96,"change":-7.78},{"region":"Japan","month":8.0,"change":-9.17},{"region":"Japan","month":8.04,"change":-8.02},{"region":"Japan","month":8.07,"change":-8.59},{"region":"Japan","month":8.12,"change":-7.77},{"region":"Japan","month":8.2,"change":-7.77},{"region":"Japan","month":8.26,"change":-5.55},{"region":"Japan","month":8.31,"change":-6.12},{"region":"Japan","month":8.37,"change":-6.77},{"region":"Japan","month":8.44,"change":-7.51},{"region":"Japan","month":8.5,"change":-9.39},{"region":"Japan","month":8.56,"change":-9.14},{"region":"Japan","month":8.64,"change":-9.14},{"region":"Japan","month":8.69,"change":-9.38},{"region":"Japan","month":8.75,"change":-9.95},{"region":"Japan","month":8.78,"change":-10.77},{"region":"Japan","month":8.82,"change":-10.44},{"region":"Japan","month":8.91,"change":-11.01},{"region":"Japan","month":8.97,"change":-11.58},{"region":"Japan","month":9.02,"change":-9.11},{"region":"Japan","month":9.08,"change":-7.89},{"region":"Japan","month":9.15,"change":-7.71},{"region":"Japan","month":9.21,"change":-8.94},{"region":"Japan","month":9.26,"change":-6.65},{"region":"Japan","month":9.37,"change":-6.89},{"region":"Japan","month":9.44,"change":-6.64},{"region":"Japan","month":9.49,"change":-7.7},{"region":"Japan","month":9.55,"change":-7.12},{"region":"Japan","month":9.62,"change":-6.05},{"region":"Japan","month":9.68,"change":-6.62},{"region":"Japan","month":9.82,"change":-6.86},{"region":"Japan","month":9.86,"change":-6.04},{"region":"Japan","month":9.97,"change":-5.79},{"region":"Japan","month":10.03,"change":-6.28},{"region":"Japan","month":10.06,"change":-7.43},{"region":"Japan","month":10.14,"change":-8.07},{"region":"Japan","month":10.25,"change":-8.48},{"region":"Japan","month":10.36,"change":-8.8},{"region":"Japan","month":10.42,"change":-10.11},{"region":"Japan","month":10.53,"change":-10.68},{"region":"Japan","month":10.57,"change":-11.33},{"region":"Japan","month":10.63,"change":-9.2},{"region":"Japan","month":10.68,"change":-10.1},{"region":"Japan","month":10.75,"change":-10.42},{"region":"Japan","month":10.8,"change":-13.12},{"region":"Japan","month":10.86,"change":-12.14},{"region":"Japan","month":10.9,"change":-11.48},{"region":"Japan","month":10.93,"change":-12.79},{"region":"Japan","month":11.04,"change":-12.78},{"region":"Japan","month":11.08,"change":-13.11},{"region":"Japan","month":11.12,"change":-10.73},{"region":"Japan","month":11.26,"change":-10.72},{"region":"Japan","month":11.34,"change":-9.24},{"region":"Japan","month":11.37,"change":-9.81},{"region":"Japan","month":11.54,"change":-9.89},{"region":"Japan","month":11.62,"change":-8.41},{"region":"Japan","month":11.72,"change":-8.16},{"region":"Japan","month":11.75,"change":-9.88},{"region":"Japan","month":11.81,"change":-8.64},{"region":"Japan","month":11.92,"change":-8.64},{"region":"Japan","month":11.95,"change":-8.97},{"region":"Japan","month":12.03,"change":-8.22},{"region":"Japan","month":12.21,"change":-8.21},{"region":"Japan","month":12.25,"change":-8.79},{"region":"Japan","month":12.28,"change":-6.98},{"region":"Japan","month":12.39,"change":-6.97},{"region":"Japan","month":12.47,"change":-7.38},{"region":"Japan","month":12.5,"change":-8.77}
]},
"layer": [
{
  "data": {"name": "lines"},
  "mark": {"type": "line", "strokeJoin": "round"},
  "encoding": {
    "x": {"field": "month", "type": "quantitative", "scale": {"domain": [0, 12.5], "nice": false, "zero": false},
      "axis": {"title": null, "values": [0, 0.5, 1, 1.37, 2, 2.52, 3, 3.51, 4, 4.43, 5, 5.52, 6, 6.45, 7, 7.41, 8, 8.39, 9, 9.45, 10, 10.39, 11, 11.41, 12, 12.31],
        "labelExpr": "datum.value % 1 == 0 ? '' : ['JAN','FEB','MARCH','APRIL','MAY','JUNE','JULY','AUG','SEPT','OCT','NOV','DEC','JAN'][floor(datum.value)]",
        "tickOpacity": {"condition": {"test": "datum.value % 1 != 0", "value": 0}, "value": 1},
        "labelFontSize": 17, "tickSize": 6, "tickWidth": 1.5, "labelPadding": 2, "labelOverlap": false, "labelFlush": false, "labelBound": false}},
    "y": {"field": "change", "type": "quantitative", "scale": {"domain": [-15, 20], "nice": false, "zero": false},
      "axis": {"orient": "left", "values": [-15, -10, -5, 0, 5, 10, 15, 20],
        "labelExpr": "(datum.value < 0 ? '-' : '') + format(abs(datum.value), '.2f')",
        "labelFontSize": 12.5, "labelFontWeight": "bold", "tickSize": 5, "tickWidth": 1.5, "labelPadding": 9,
        "title": "Percentage Change (%)", "titleFontSize": 15, "titleFontWeight": "normal", "titleX": -53, "titleY": 239, "titleAngle": -90, "titleAlign": "center", "titleBaseline": "middle"}},
    "color": {"field": "region", "type": "nominal",
      "scale": {"domain": ["Japan", "N. America", "Europe Ex-UK", "Pacific Ex-Japan"], "range": ["#000000", "#000000", "#000000", "#b3b3b3"]},
      "legend": {"title": null, "orient": "none", "legendX": 423, "legendY": 16, "direction": "horizontal", "columns": 2, "symbolType": "stroke", "symbolSize": 2500, "clipHeight": 15,
        "labelFontSize": 15, "labelFont": "Liberation Sans", "labelColor": "#000", "labelOffset": 3, "labelLimit": 300, "rowPadding": 33, "columnPadding": 42, "padding": 15,
        "strokeColor": "#9a9a9a", "fillColor": "#ffffff"}},
    "strokeDash": {"field": "region", "type": "nominal",
      "scale": {"domain": ["Japan", "N. America", "Europe Ex-UK", "Pacific Ex-Japan"], "range": [[1, 0], [9, 5], [1, 0], [1, 0]]}},
    "strokeWidth": {"field": "region", "type": "nominal",
      "scale": {"type": "ordinal", "domain": ["Japan", "N. America", "Europe Ex-UK", "Pacific Ex-Japan"], "range": [4.5, 1.4, 1.3, 4]}}
  }
},
{
  "data": {"name": "years"},
  "mark": {"type": "text", "fontSize": 16, "font": "Liberation Sans", "fontWeight": "bold", "color": "#000", "baseline": "middle", "align": "center"},
  "encoding": {
    "x": {"field": "month", "type": "quantitative"},
    "y": {"field": "ypos", "type": "quantitative", "scale": {"domain": [-15, 20], "nice": false, "zero": false},
      "axis": {"orient": "right", "title": null, "values": [-15, -10, -5, 0, 5, 10, 15, 20],
        "labelExpr": "(datum.value < 0 ? '-' : '') + format(abs(datum.value), '.2f')",
        "labelFontSize": 12.5, "labelFontWeight": "bold", "tickSize": 5, "tickWidth": 1.5, "labelPadding": 4}},
    "text": {"field": "label"}
  }
}
],
"resolve": {"axis": {"y": "independent"}}
}
